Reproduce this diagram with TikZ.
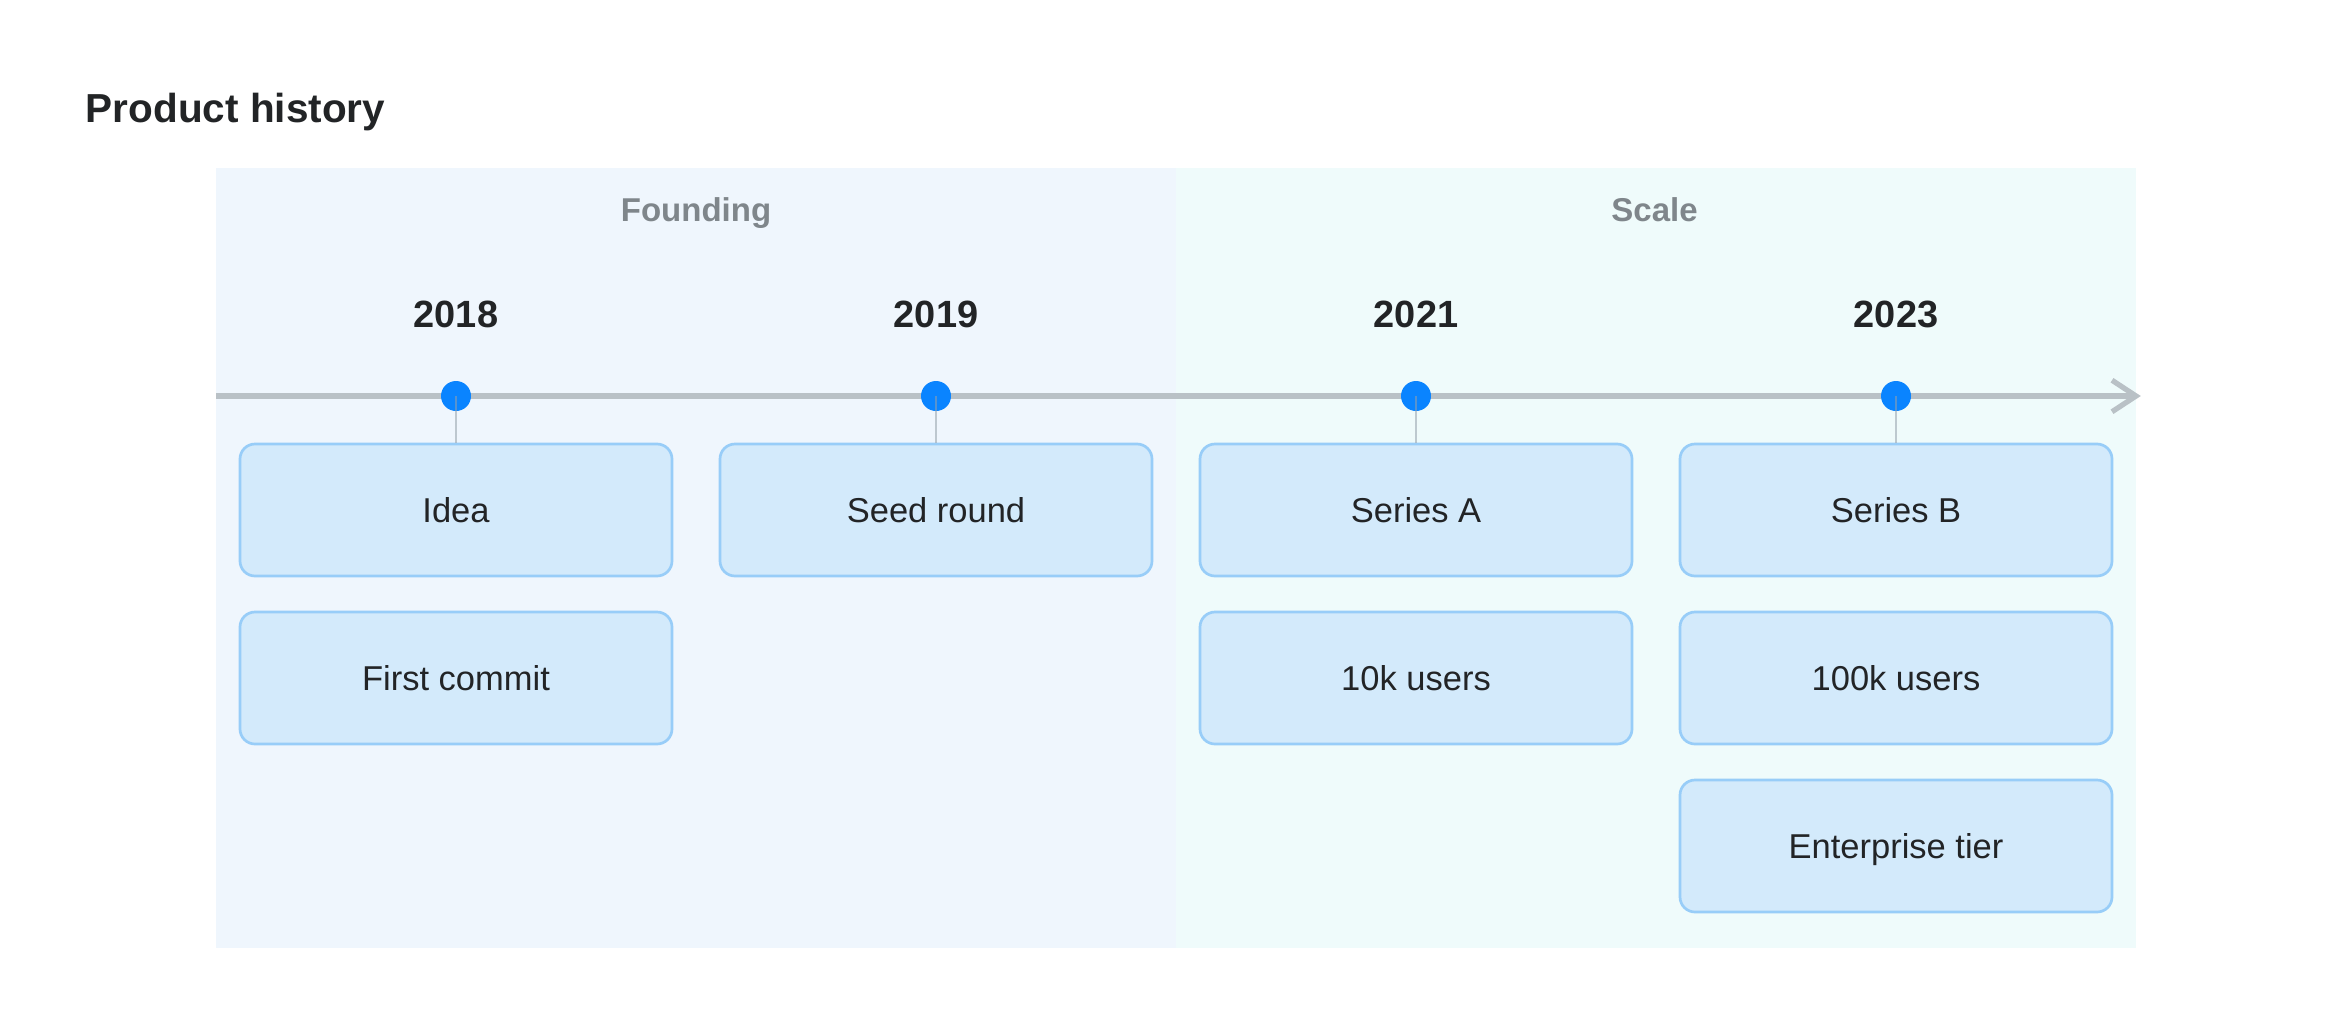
\documentclass[tikz,border=0pt]{standalone}
\usepackage{fontspec}
\setmainfont{Liberation Sans}
\definecolor{bgA}{HTML}{EFF6FD}
\definecolor{bgB}{HTML}{EFFBFB}
\definecolor{boxfill}{HTML}{D3EAFB}
\definecolor{boxline}{HTML}{98CDF8}
\definecolor{dotblue}{HTML}{0A84FF}
\definecolor{axisgray}{HTML}{B9C1C6}
\definecolor{stemgray}{HTML}{95A1AB}
\definecolor{ink}{HTML}{222426}
\definecolor{phasegray}{HTML}{7F868B}
\begin{document}
\begin{tikzpicture}[x=1pt,y=-1pt,
  evbox/.style={draw=boxline, fill=boxfill, line width=1.8pt, rounded corners=10pt,
    minimum width=288pt, minimum height=88pt, inner sep=0pt,
    text height=16pt, text depth=0pt, font=\fontsize{23}{27}\selectfont, text=ink},
  yearlabel/.style={inner sep=0pt, text height=18pt, text depth=0pt,
    font=\fontsize{25.3}{30}\selectfont\bfseries, text=ink},
  phaselabel/.style={inner sep=0pt, text height=15.8pt, text depth=0pt,
    font=\fontsize{22}{26}\selectfont\bfseries, text=phasegray},
  evdot/.style={circle, fill=dotblue, inner sep=0pt, minimum size=20pt},
  stemline/.style={draw=stemgray, opacity=0.55, line width=1.4pt},
  axisline/.style={draw=axisgray, line width=3.5pt}
]
\useasboundingbox (0,0) rectangle (1568,688);
\fill[white] (0,0) rectangle (1568,688);
% phase bands
\fill[bgA] (144,112) rectangle (784,632);
\fill[bgB] (784,112) rectangle (1424,632);
% title
\node[anchor=west, inner sep=0pt, text height=19pt, text depth=0pt,
  font=\fontsize{27}{32}\selectfont\bfseries, text=ink] (title) at (57,72) {Product history};
% phase labels
\node[phaselabel] (ph1) at (464,140) {Founding};
\node[phaselabel] (ph2) at (1103,140) {Scale};
% years
\node[yearlabel] (y1) at (304,209) {2018};
\node[yearlabel] (y2) at (624,209) {2019};
\node[yearlabel] (y3) at (944,209) {2021};
\node[yearlabel] (y4) at (1264,209) {2023};
% axis
\coordinate (axs) at (144,264);
\coordinate (axe) at (1424,264);
\draw[axisline] (axs) -- (axe);
\draw[axisline, line join=miter] ([shift={(-16,-10.5)}]axe) -- (axe) -- ([shift={(-16,10.5)}]axe);
% boxes
\node[evbox] (b11) at (304,340) {Idea};
\node[evbox] (b12) at (304,452) {First commit};
\node[evbox] (b21) at (624,340) {Seed round};
\node[evbox] (b31) at (944,340) {Series A};
\node[evbox] (b32) at (944,452) {10k users};
\node[evbox] (b41) at (1264,340) {Series B};
\node[evbox] (b42) at (1264,452) {100k users};
\node[evbox] (b43) at (1264,564) {Enterprise tier};
% dots
\node[evdot] (d1) at (304,264) {};
\node[evdot] (d2) at (624,264) {};
\node[evdot] (d3) at (944,264) {};
\node[evdot] (d4) at (1264,264) {};
% stems
\draw[stemline] (d1.center) -- (b11.north);
\draw[stemline] (d2.center) -- (b21.north);
\draw[stemline] (d3.center) -- (b31.north);
\draw[stemline] (d4.center) -- (b41.north);
\end{tikzpicture}
\end{document}
